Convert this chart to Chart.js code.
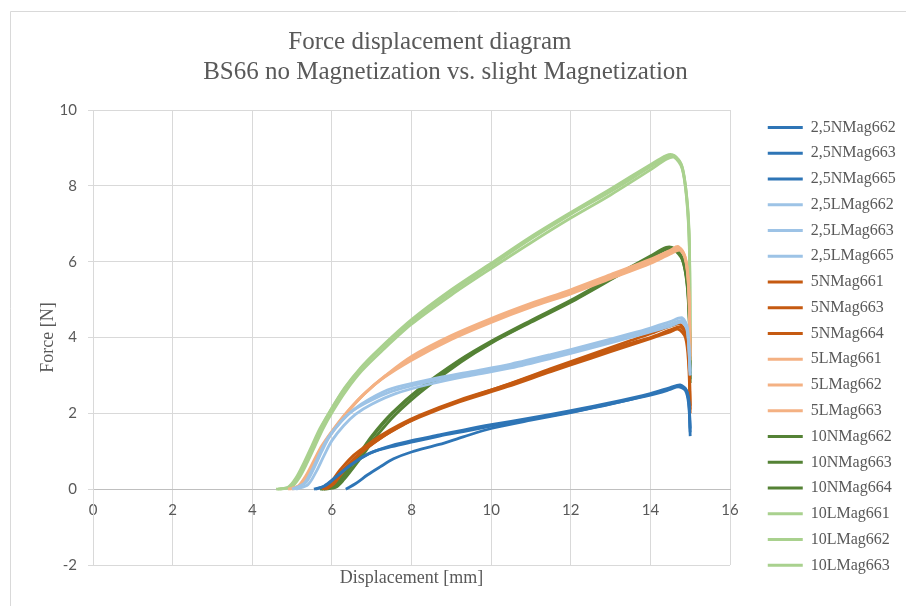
<!DOCTYPE html>
<html>
<head>
<meta charset="utf-8">
<script src="https://cdn.jsdelivr.net/npm/chart.js@4.4.1/dist/chart.umd.min.js"></script>
<style>
  html, body { margin: 0; padding: 0; background: #fff; }
</style>
</head>
<body>
<canvas id="chart" width="906" height="606"></canvas>
<script>
// --- datos (x = desplazamiento mm, y = fuerza N) ---
const xTicks = [0, 2, 4, 6, 8, 10, 12, 14, 16];
const yTicks = [-2, 0, 2, 4, 6, 8, 10];

const seriesNames = [
  "2,5NMag662", "2,5NMag663", "2,5NMag665",
  "2,5LMag662", "2,5LMag663", "2,5LMag665",
  "5NMag661", "5NMag663", "5NMag664",
  "5LMag661", "5LMag662", "5LMag663",
  "10NMag662", "10NMag663", "10NMag664",
  "10LMag661", "10LMag662", "10LMag663"
];

const n25_662 = [[5.55,0],[5.8,0.08],[6.1,0.32],[6.4,0.58],[6.7,0.8],[7.0,0.97],[7.5,1.15],[8.0,1.28],[8.7,1.43],[9.3,1.56],[10,1.7],[11,1.88],[12,2.07],[13,2.28],[14,2.52],[14.5,2.68],[14.75,2.75],[14.9,2.62],[14.97,2.3],[15,1.4]];
const n25_663 = [[5.6,0],[5.85,0.1],[6.15,0.36],[6.45,0.62],[6.75,0.83],[7.05,0.99],[7.5,1.12],[8.0,1.24],[8.7,1.4],[9.3,1.52],[10,1.66],[11,1.85],[12,2.03],[13,2.25],[14,2.48],[14.5,2.63],[14.7,2.7],[14.88,2.6],[14.96,2.25],[15,1.5]];
const n25_665 = [[6.35,0],[6.6,0.15],[6.9,0.38],[7.2,0.58],[7.55,0.8],[8.0,0.98],[8.7,1.18],[9.3,1.38],[10,1.6],[11,1.82],[12,2.02],[13,2.24],[14,2.5],[14.5,2.66],[14.7,2.72],[14.88,2.65],[14.96,2.35],[15,1.6]];

const l25_662 = [[5.0,0],[5.3,0.15],[5.5,0.5],[5.7,0.95],[5.9,1.35],[6.2,1.75],[6.5,2.05],[6.9,2.3],[7.5,2.58],[8.5,2.85],[9.5,3.05],[10.5,3.25],[11.5,3.5],[12.5,3.78],[13.5,4.05],[14,4.2],[14.5,4.35],[14.8,4.45],[14.93,4.2],[15,3.0]];
const l25_663 = [[5.05,0],[5.35,0.18],[5.55,0.55],[5.75,1.0],[5.95,1.4],[6.25,1.8],[6.55,2.1],[6.95,2.38],[7.5,2.65],[8.5,2.9],[9.5,3.1],[10.5,3.3],[11.5,3.55],[12.5,3.82],[13.5,4.1],[14,4.25],[14.5,4.42],[14.8,4.52],[14.93,4.25],[15,3.1]];
const l25_665 = [[5.1,0],[5.4,0.12],[5.6,0.45],[5.8,0.88],[6.0,1.28],[6.3,1.68],[6.6,1.98],[7.0,2.24],[7.6,2.52],[8.5,2.78],[9.5,3.0],[10.5,3.2],[11.5,3.45],[12.5,3.72],[13.5,4.0],[14,4.15],[14.5,4.3],[14.8,4.4],[14.93,4.15],[15,3.0]];

const n5_661 = [[5.75,0],[5.95,0.15],[6.2,0.5],[6.5,0.85],[6.8,1.1],[7.2,1.4],[7.7,1.7],[8.2,1.95],[9.2,2.35],[10.4,2.75],[11.5,3.15],[12.5,3.5],[13.5,3.85],[14,4.0],[14.5,4.2],[14.75,4.28],[14.9,4.05],[14.97,3.4],[15,2.0]];
const n5_663 = [[5.8,0],[6.0,0.12],[6.25,0.46],[6.55,0.8],[6.85,1.06],[7.25,1.36],[7.7,1.65],[8.2,1.9],[9.2,2.3],[10.4,2.7],[11.5,3.1],[12.5,3.45],[13.5,3.8],[14,3.97],[14.5,4.15],[14.7,4.22],[14.88,4.0],[14.96,3.3],[15,2.1]];
const n5_664 = [[5.85,0],[6.05,0.14],[6.3,0.48],[6.6,0.83],[6.9,1.1],[7.3,1.4],[7.8,1.7],[8.3,1.97],[9.2,2.33],[10.4,2.76],[11.5,3.18],[12.5,3.55],[13.5,3.92],[14,4.1],[14.5,4.3],[14.75,4.35],[14.9,4.1],[14.97,3.4],[15,2.2]];

const l5_661 = [[4.95,0],[5.2,0.1],[5.4,0.4],[5.6,0.8],[5.8,1.2],[6.1,1.65],[6.4,2.05],[6.8,2.5],[7.3,2.95],[8.0,3.45],[9.0,4.0],[10,4.45],[11,4.85],[12,5.2],[13,5.6],[14,6.0],[14.5,6.25],[14.75,6.35],[14.9,6.0],[14.97,5.2],[15,3.5]];
const l5_662 = [[5.0,0],[5.25,0.12],[5.45,0.44],[5.65,0.85],[5.85,1.25],[6.15,1.7],[6.45,2.1],[6.85,2.55],[7.35,3.0],[8.0,3.5],[9.0,4.05],[10,4.5],[11,4.9],[12,5.26],[13,5.66],[14,6.06],[14.5,6.3],[14.7,6.4],[14.88,6.1],[14.96,5.3],[15,3.6]];
const l5_663 = [[4.9,0],[5.15,0.08],[5.35,0.36],[5.55,0.76],[5.75,1.15],[6.05,1.6],[6.35,2.0],[6.75,2.45],[7.25,2.9],[8.0,3.4],[9.0,3.95],[10,4.4],[11,4.8],[12,5.15],[13,5.55],[14,5.95],[14.5,6.2],[14.75,6.3],[14.9,5.95],[14.97,5.1],[15,3.4]];

const n10_662 = [[5.7,0],[6.0,0.05],[6.2,0.25],[6.45,0.6],[6.7,0.95],[7.0,1.4],[7.5,2.0],[8.2,2.65],[9.2,3.4],[10,3.9],[11,4.45],[12,4.98],[13,5.57],[14,6.15],[14.4,6.38],[14.6,6.35],[14.8,6.1],[14.92,5.5],[14.98,4.5],[15,2.8]];
const n10_663 = [[5.75,0],[6.05,0.06],[6.25,0.27],[6.5,0.62],[6.75,0.97],[7.05,1.42],[7.55,2.02],[8.25,2.66],[9.2,3.38],[10,3.87],[11,4.42],[12,4.95],[13,5.54],[14,6.1],[14.4,6.32],[14.6,6.3],[14.8,6.05],[14.92,5.45],[14.98,4.4],[15,2.9]];
const n10_664 = [[5.8,0],[6.1,0.05],[6.3,0.25],[6.55,0.58],[6.8,0.93],[7.1,1.37],[7.6,1.97],[8.3,2.62],[9.25,3.36],[10,3.85],[11,4.4],[12,4.93],[13,5.52],[14,6.12],[14.4,6.35],[14.6,6.33],[14.8,6.08],[14.92,5.4],[14.98,4.3],[15,3.0]];

const l10_661 = [[4.6,0],[4.9,0.05],[5.1,0.3],[5.3,0.7],[5.5,1.15],[5.7,1.6],[5.95,2.05],[6.3,2.62],[6.7,3.15],[7.2,3.68],[8.0,4.42],[9.0,5.2],[10,5.9],[11,6.6],[12,7.25],[13,7.85],[14,8.5],[14.4,8.75],[14.6,8.8],[14.8,8.5],[14.92,7.6],[14.98,6.4],[15,3.6]];
const l10_662 = [[4.7,0],[5.0,0.07],[5.18,0.3],[5.38,0.7],[5.58,1.15],[5.78,1.6],[6.02,2.05],[6.36,2.6],[6.75,3.12],[7.25,3.64],[8.0,4.35],[9.0,5.12],[10,5.82],[11,6.5],[12,7.15],[13,7.76],[14,8.42],[14.4,8.7],[14.6,8.75],[14.8,8.45],[14.92,7.55],[14.98,6.3],[15,3.7]];
const l10_663 = [[4.65,0],[4.95,0.06],[5.14,0.3],[5.34,0.72],[5.54,1.18],[5.74,1.64],[5.98,2.1],[6.32,2.67],[6.72,3.2],[7.22,3.73],[8.0,4.47],[9.0,5.26],[10,5.96],[11,6.66],[12,7.3],[13,7.92],[14,8.56],[14.4,8.8],[14.55,8.82],[14.78,8.55],[14.92,7.65],[14.98,6.5],[15,3.6]];

const seriesData = [
  n25_662, n25_663, n25_665, l25_662, l25_663, l25_665,
  n5_661, n5_663, n5_664, l5_661, l5_662, l5_663,
  n10_662, n10_663, n10_664, l10_661, l10_662, l10_663
];
const seriesColors = [
  "#2E75B6", "#2E75B6", "#2E75B6", "#9DC3E6", "#9DC3E6", "#9DC3E6",
  "#C55A11", "#C55A11", "#C55A11", "#F4B183", "#F4B183", "#F4B183",
  "#548235", "#548235", "#548235", "#A9D18E", "#A9D18E", "#A9D18E"
];

const GREY = "#595959";
const LEGEND_W = 148;
const NBSP = "\u00A0";

// marco fino como en la hoja de Excel
const framePlugin = {
  id: "frame",
  beforeDraw(chart){
    const c = chart.ctx;
    c.save();
    c.fillStyle = "#fff";
    c.fillRect(0, 0, chart.width, chart.height);
    c.strokeStyle = "#d9d9d9";
    c.lineWidth = 1;
    c.beginPath();
    c.moveTo(10.5, chart.height); c.lineTo(10.5, 11.5); c.lineTo(chart.width, 11.5);
    c.stroke();
    c.restore();
  }
};

// ancho fijo de la leyenda
const legendWidthPlugin = {
  id: "legendWidth",
  beforeLayout(chart){
    const lg = chart.legend;
    if (lg && !lg._fixedW){
      const fit = lg.fit;
      lg.fit = function(){ fit.call(this); this.width = LEGEND_W; };
      lg._fixedW = true;
    }
  }
};

const datasets = seriesNames.map((name, i) => ({
  label: name,
  data: seriesData[i],
  borderColor: seriesColors[i],
  backgroundColor: seriesColors[i],
  borderWidth: 2.8,
  pointRadius: 0,
  tension: 0.3,
  fill: false
}));

new Chart(document.getElementById("chart"), {
  type: "line",
  data: { datasets },
  plugins: [framePlugin, legendWidthPlugin],
  options: {
    responsive: false,
    animation: false,
    layout: { padding: { top: 14, left: 10, right: 0, bottom: 13.4 } },
    scales: {
      x: {
        type: "linear",
        position: { y: 0 },
        min: xTicks[0], max: xTicks[xTicks.length - 1],
        afterBuildTicks: s => { s.ticks = xTicks.map(v => ({ value: v })); },
        grid: { color: "#d9d9d9", drawTicks: false },
        border: { color: "#bfbfbf" },
        ticks: { color: GREY, font: { family: "Lato", size: 15 }, padding: 12 }
      },
      x2: {
        type: "linear",
        position: "bottom",
        min: 0, max: 16,
        grid: { display: false, drawTicks: false },
        border: { display: false },
        ticks: { display: false },
        title: {
          display: true, text: "Displacement [mm]", color: GREY,
          font: { family: "Liberation Serif", size: 18 }, padding: { top: 2, bottom: 4 }
        }
      },
      y: {
        type: "linear",
        position: "left",
        min: yTicks[0], max: yTicks[yTicks.length - 1],
        afterBuildTicks: s => { s.ticks = yTicks.map(v => ({ value: v })); },
        afterFit: s => { s.width = 83; },
        grid: { color: "#d9d9d9", tickLength: 5 },
        border: { color: "#d9d9d9" },
        ticks: { color: GREY, font: { family: "Lato", size: 15 }, padding: 11 },
        title: {
          display: true, text: "Force [N]", color: GREY,
          font: { family: "Liberation Serif", size: 18 }, padding: { top: 27, bottom: 4 }
        }
      },
      yGap: {
        type: "linear",
        position: "right",
        min: 0, max: 1,
        afterFit: s => { s.width = 28; },
        grid: { display: false, drawTicks: false },
        border: { display: false },
        ticks: { display: false }
      }
    },
    plugins: {
      title: {
        display: true,
        text: ["Force displacement diagram" + NBSP.repeat(9), "BS66 no Magnetization vs. slight Magnetization" + NBSP.repeat(4)],
        color: GREY,
        font: { family: "Liberation Serif", size: 25, weight: "normal", lineHeight: 1.2 },
        padding: { top: 13, bottom: 23 }
      },
      legend: {
        position: "right",
        title: { display: true, text: " ", font: { size: 16 }, padding: { top: 67, bottom: 0 } },
        labels: {
          color: GREY,
          font: { family: "Liberation Serif", size: 16 },
          boxWidth: 35,
          boxHeight: 3,
          padding: 9.76,
          generateLabels(chart){
            return Chart.defaults.plugins.legend.labels.generateLabels(chart)
              .map(l => ({ ...l, lineWidth: 0, fillStyle: l.strokeStyle }));
          }
        }
      },
      tooltip: { enabled: false }
    }
  }
});
</script>
</body>
</html>
